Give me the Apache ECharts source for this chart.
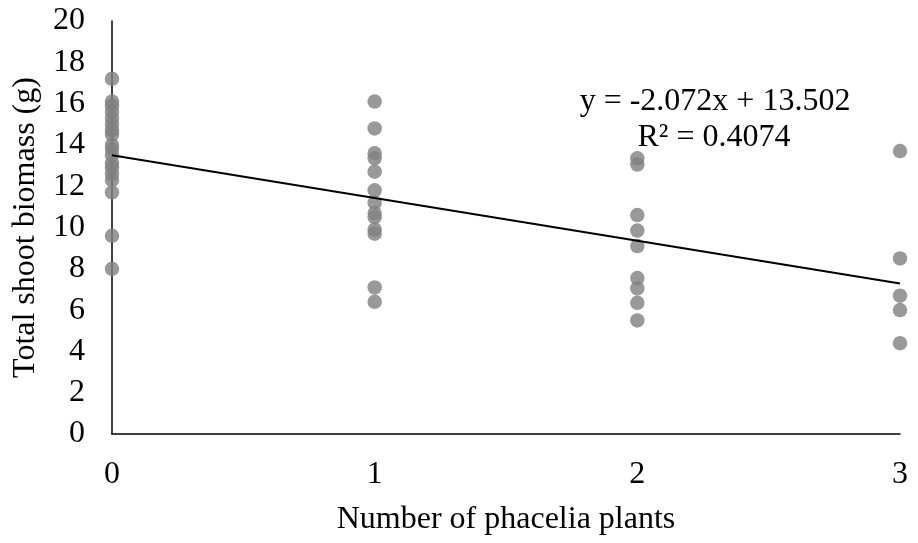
<!DOCTYPE html>
<html>
<head>
<meta charset="utf-8">
<title>Total shoot biomass vs number of phacelia plants</title>
<script src="https://cdn.jsdelivr.net/npm/echarts@6/dist/echarts.min.js"></script>
<style>
  html, body { margin: 0; padding: 0; background: #ffffff; }
  #chart { width: 918px; height: 543px; }
</style>
</head>
<body>
<div id="chart"></div>
<script>
// Total shoot biomass (g) per pot, grouped by number of phacelia plants
const phaceliaCounts = [0, 1, 2, 3];
const biomass0 = [17.2, 16.1, 15.9, 15.6, 15.3, 15.0, 14.7, 14.5, 14.0, 13.8, 13.5, 13.1, 12.9, 12.6, 12.3, 11.7, 9.6, 8.0];
const biomass1 = [16.1, 14.8, 13.6, 13.35, 12.7, 11.8, 11.2, 10.7, 10.5, 9.9, 9.7, 7.1, 6.4];
const biomass2 = [13.35, 13.05, 10.6, 9.85, 9.1, 7.55, 7.05, 6.35, 5.5];
const biomass3 = [13.7, 8.5, 6.7, 6.0, 4.4];

// Linear fit reported on the chart
const slope = -2.072;
const intercept = 13.502;
const rSquared = '0.4074';

const xTicks = ['0', '1', '2', '3'];
const yTicks = ['0', '2', '4', '6', '8', '10', '12', '14', '16', '18', '20'];

const groups = [biomass0, biomass1, biomass2, biomass3];
const points = [];
groups.forEach((vals, i) => vals.forEach(v => points.push([phaceliaCounts[i], v])));

const xMin = phaceliaCounts[0];
const xMax = phaceliaCounts[phaceliaCounts.length - 1];
const trend = [[xMin, intercept + slope * xMin], [xMax, intercept + slope * xMax]];

const serif = "'Liberation Serif', 'Times New Roman', serif";

const chart = echarts.init(document.getElementById('chart'), null, { renderer: 'canvas' });
chart.setOption({
  animation: false,
  backgroundColor: '#ffffff',
  grid: { left: 112, right: 18, top: 21, bottom: 109, containLabel: false },
  xAxis: {
    type: 'value',
    min: 0, max: 3, interval: 1,
    name: 'Number of phacelia plants',
    nameLocation: 'middle',
    nameGap: 70,
    nameTextStyle: { fontFamily: serif, fontSize: 32, color: '#000' },
    axisLine: { show: true, lineStyle: { color: '#000', width: 1.5 } },
    axisTick: { show: false },
    splitLine: { show: false },
    axisLabel: {
      fontFamily: serif, fontSize: 32, color: '#000', margin: 25,
      formatter: v => xTicks[phaceliaCounts.indexOf(v)] ?? ''
    }
  },
  yAxis: {
    type: 'value',
    min: 0, max: 20, interval: 2,
    name: 'Total shoot biomass (g)',
    nameLocation: 'middle',
    nameGap: 70,
    nameTextStyle: { fontFamily: serif, fontSize: 32, color: '#000' },
    axisLine: { show: true, lineStyle: { color: '#000', width: 1.5 } },
    axisTick: { show: false },
    splitLine: { show: false },
    axisLabel: {
      fontFamily: serif, fontSize: 32, color: '#000', margin: 27,
      formatter: v => yTicks[Math.round(v / 2)] ?? ''
    }
  },
  series: [
    {
      type: 'scatter',
      data: points,
      symbol: 'circle',
      symbolSize: 14.5,
      itemStyle: { color: '#808080' },
      z: 2
    },
    {
      type: 'line',
      data: trend,
      symbol: 'none',
      lineStyle: { color: '#000', width: 2 },
      z: 3
    }
  ],
  graphic: [
    {
      type: 'text',
      x: 715, y: 102,
      style: {
        text: 'y = ' + slope + 'x + ' + intercept.toFixed(3),
        font: '32px ' + serif, fill: '#000',
        align: 'center', verticalAlign: 'middle'
      }
    },
    {
      type: 'text',
      x: 714, y: 138,
      style: {
        text: 'R\u00B2 = ' + rSquared,
        font: '32px ' + serif, fill: '#000',
        align: 'center', verticalAlign: 'middle'
      }
    }
  ]
});
</script>
</body>
</html>
